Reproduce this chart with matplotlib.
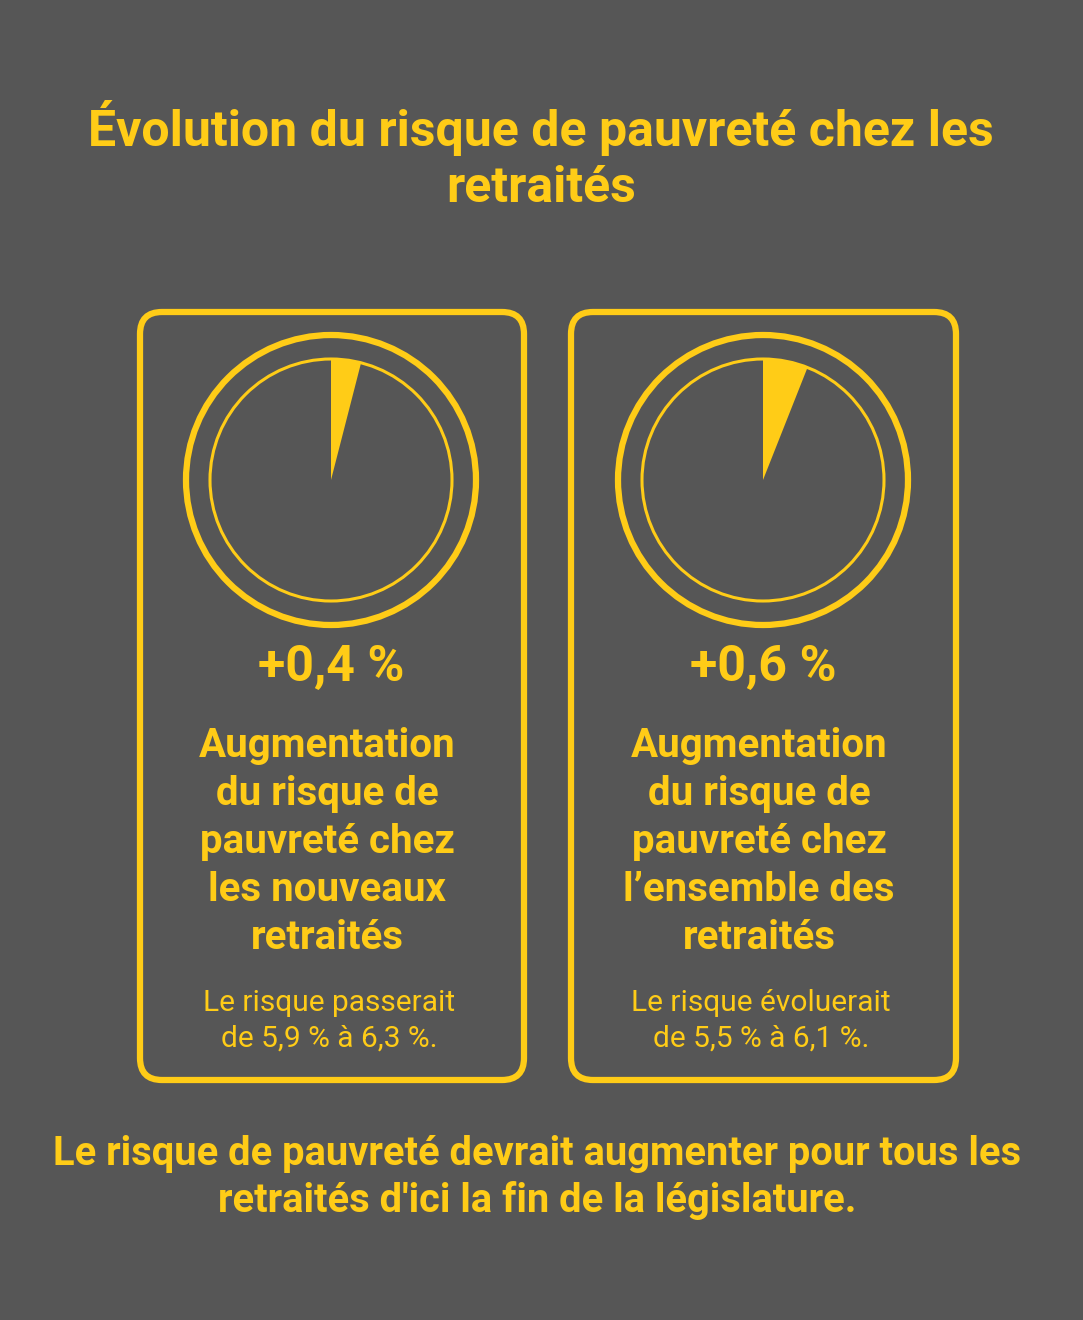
import matplotlib
matplotlib.use("Agg")
import matplotlib.pyplot as plt
from matplotlib.patches import FancyBboxPatch, Circle, Wedge

title_lines = ["Évolution du risque de pauvreté chez les", "retraités"]
changes = ["+0,4 %", "+0,6 %"]
wedge_pct = [4, 6]
labels = [["Augmentation", "du risque de", "pauvreté chez", "les nouveaux", "retraités"],
          ["Augmentation", "du risque de", "pauvreté chez", "l’ensemble des", "retraités"]]
notes = [["Le risque passerait", "de 5,9 % à 6,3 %."],
         ["Le risque évoluerait", "de 5,5 % à 6,1 %."]]
footer = ["Le risque de pauvreté devrait augmenter pour tous les",
          "retraités d'ici la fin de la législature."]

BG = "#565656"
Y = "#FFCC17"
plt.rcParams['font.family'] = ['Roboto', 'DejaVu Sans']

fig = plt.figure(figsize=(10.83, 13.2), dpi=100, facecolor=BG)
ax = fig.add_axes([0, 0, 1, 1])
ax.set_xlim(0, 1083); ax.set_ylim(1320, 0); ax.axis('off')
ax.set_facecolor(BG)

for i, t in enumerate(title_lines):
    ax.text(541, 128 + 60 * i, t, color=Y, fontsize=36, fontweight='bold', ha='center', va='center')

boxes = [(140, 524), (571, 956)]
centers = [331, 763]
for k in range(2):
    x0, x1 = boxes[k]
    ax.add_patch(FancyBboxPatch((x0, 312), x1 - x0, 768, boxstyle="round,pad=0,rounding_size=22",
                                fill=False, ec=Y, lw=4.5))
    cx, cy = centers[k], 480
    ax.add_patch(Circle((cx, cy), 145, fill=False, ec=Y, lw=4.5))
    ax.add_patch(Circle((cx, cy), 121, fill=False, ec=Y, lw=2.2))
    ax.add_patch(Wedge((cx, cy), 121, 270, 270 + wedge_pct[k] * 3.6, fc=Y, ec='none'))
    ax.text(cx, 667, changes[k], color=Y, fontsize=36, fontweight='bold', ha='center', va='center')
    for j, l in enumerate(labels[k]):
        ax.text(cx - 4, 746 + 48 * j, l, color=Y, fontsize=29, fontweight='bold', ha='center', va='center')
    for j, l in enumerate(notes[k]):
        ax.text(cx - 2, 1003 + 36 * j, l, color=Y, fontsize=21.5, ha='center', va='center')

for i, t in enumerate(footer):
    ax.text(537, 1154 + 47 * i, t, color=Y, fontsize=28.7, fontweight='bold', ha='center', va='center')

fig.savefig("out.png", dpi=100, facecolor=BG)
